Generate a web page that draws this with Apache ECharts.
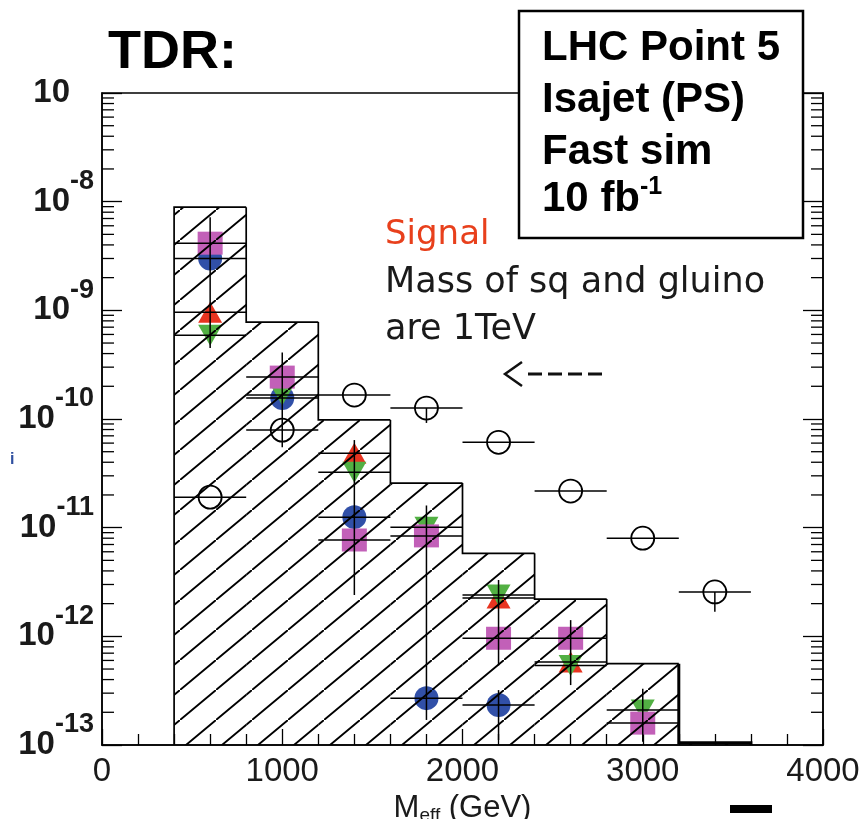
<!DOCTYPE html>
<html><head><meta charset="utf-8">
<script src="https://cdn.jsdelivr.net/npm/echarts@6/dist/echarts.min.js"></script>
<style>html,body{margin:0;padding:0;background:#fff;}#c{width:863px;height:819px;}</style>
</head><body><div id="c"></div>
<script>
// ---- data ----
const binEdges = [400, 800, 1200, 1600, 2000, 2400, 2800, 3200, 3600];
const bgHist = [8.9e-9, 7.8e-10, 9.8e-11, 2.57e-11, 5.8e-12, 2.2e-12, 5.6e-13, 1.05e-13];

const signalX = [600, 1000, 1400, 1800, 2200, 2600, 3000, 3400];
const signalY = [1.91e-11, 7.9e-11, 1.66e-10, 1.26e-10, 6.1e-11, 2.17e-11, 8.0e-12, 2.56e-12];

const magentaX = [600, 1000, 1400, 1800, 2200, 2600, 3000];
const magentaY = [4.15e-9, 2.43e-10, 7.7e-12, 8.4e-12, 9.6e-13, 9.6e-13, 1.59e-13];
const blueX = [600, 1000, 1400, 1800, 2200];
const blueY = [3.0e-9, 1.56e-10, 1.25e-11, 2.7e-13, 2.33e-13];
const redX = [600, 1400, 2200, 2600];
const redY = [9.6e-10, 4.85e-11, 2.25e-12, 5.8e-13];
const greenX = [600, 1000, 1400, 1800, 2200, 2600, 3000];
const greenY = [5.9e-10, 1.66e-10, 3.24e-11, 1.01e-11, 2.4e-12, 5.4e-13, 2.1e-13];

const vErrX  = [600, 1000, 1400, 1800, 2200, 2200, 2600, 3000, 3400, 1800];
const vErrHi = [7.2e-9, 4.1e-10, 6.4e-11, 1.6e-11, 3.3e-12, 3.2e-13, 1.41e-12, 3.3e-13, 2.56e-12, 1.26e-10];
const vErrLo = [4.5e-10, 5.5e-11, 2.4e-12, 1.7e-13, 5.4e-13, 1.11e-13, 3.56e-13, 1.07e-13, 1.68e-12, 9.2e-11];
const xHalfWidth = 200;

const xTickLabels = ['0', '1000', '2000', '3000', '4000'];
const yTickExp = [-7, -8, -9, -10, -11, -12, -13];
const yMin = 1e-13, yMax = 1e-7;

// ---- hatch pattern ----
const tile = document.createElement('canvas');
tile.width = 36; tile.height = 30;
(function(){
  const g = tile.getContext('2d');
  g.strokeStyle = '#000'; g.lineWidth = 1.9;
  g.beginPath();
  g.moveTo(0, 30); g.lineTo(36, 0);
  g.moveTo(-36, 60); g.lineTo(0, 30);
  g.moveTo(36, 0); g.lineTo(72, -30);
  g.stroke();
})();
const hatch = { image: tile, repeat: 'repeat' };

const pts = (xs, ys) => xs.map((x, i) => [x, ys[i]]);
const minorTickVals = [];
for (let e = -13; e < -7; e++) for (let k = 2; k <= 9; k++) minorTickVals.push([0, k * Math.pow(10, e)]);

const allMarkers = [].concat(pts(signalX, signalY), pts(magentaX, magentaY), pts(blueX, blueY), pts(redX, redY), pts(greenX, greenY));

const chart = echarts.init(document.getElementById('c'), null, {renderer: 'canvas'});
const fontMain = "'Liberation Sans', Arial, sans-serif";

const option = {
  backgroundColor: '#fff',
  animation: false,
  grid: { left: 102, right: 40, top: 93, bottom: 74, show: true, borderColor: '#000', borderWidth: 1.5, backgroundColor: 'transparent', containLabel: false, outerBoundsMode: 'none' },
  xAxis: {
    type: 'value', min: 0, max: 4000, interval: 1000,
    axisLine: { lineStyle: { color: '#000', width: 1.5 } },
    axisTick: { inside: true, length: 16, lineStyle: { color: '#000', width: 1.3 } },
    minorTick: { show: true, splitNumber: 5, length: 11, lineStyle: { color: '#000', width: 1.3 } },
    splitLine: { show: false },
    axisLabel: { margin: 10, fontSize: 33, color: '#1a1a1a', fontFamily: fontMain,
      formatter: v => xTickLabels[Math.round(v / 1000)] },
    name: '{m|M}{sub|eff}{t| (GeV)}', nameLocation: 'middle', nameGap: 44,
    nameTextStyle: { rich: {
      m: { fontSize: 31, fontFamily: fontMain, color: '#1a1a1a' },
      sub: { fontSize: 19, fontFamily: fontMain, color: '#1a1a1a', padding: [15, 0, 0, 0] },
      t: { fontSize: 31, fontFamily: fontMain, color: '#1a1a1a' } } }
  },
  yAxis: [{
    type: 'log', logBase: 10, min: yMin, max: yMax,
    axisLine: { lineStyle: { color: '#000', width: 1.5 } },
    axisTick: { inside: true, length: 20, lineStyle: { color: '#000', width: 1.3 } },
    splitLine: { show: false },
    axisLabel: { margin: 8,
      formatter: v => { const e = Math.round(Math.log10(v)); if (yTickExp.indexOf(e) < 0) return ''; return e === -7 ? '{b|10}{h|-7}' : '{b|10}{s|' + e + '}'; },
      rich: {
        b: { fontSize: 33, fontWeight: 'bold', fontFamily: fontMain, color: '#1a1a1a' },
        s: { fontSize: 27, fontWeight: 'bold', fontFamily: fontMain, color: '#1a1a1a', padding: [0, 0, 40, 0] },
        h: { fontSize: 27, fontWeight: 'bold', fontFamily: fontMain, color: 'transparent', padding: [0, 0, 40, 0] }
      } }
  }, {
    type: 'log', logBase: 10, min: yMin, max: yMax, position: 'right',
    axisLine: { show: true, lineStyle: { color: '#000', width: 1.5 } },
    axisTick: { inside: true, length: 20, lineStyle: { color: '#000', width: 1.3 } },
    axisLabel: { show: false }, splitLine: { show: false }
  }],
  series: [
    { type: 'scatter', name: 'signal', z: 2, symbol: 'circle', symbolSize: 23, data: pts(signalX, signalY),
      itemStyle: { color: '#fff', borderColor: '#000', borderWidth: 1.8, opacity: 1 } },
    { type: 'scatter', name: 'red', z: 2, symbol: 'triangle', symbolSize: [24, 21], data: pts(redX, redY), itemStyle: { color: '#e83420', opacity: 1 } },
    { type: 'scatter', name: 'blue', z: 2, symbol: 'circle', symbolSize: 24, data: pts(blueX, blueY), itemStyle: { color: '#3150a8', opacity: 1 } },
    { type: 'scatter', name: 'green', z: 2, symbol: 'triangle', symbolRotate: 180, symbolSize: [24, 21], data: pts(greenX, greenY), itemStyle: { color: '#52b043', opacity: 1 } },
    { type: 'scatter', name: 'magenta', z: 2, symbol: 'rect', symbolSize: [25, 23], data: pts(magentaX, magentaY), itemStyle: { color: '#c260b8', opacity: 1 } },
    { type: 'custom', name: 'hatch', z: 3, silent: true,
      data: bgHist.map((v, i) => [binEdges[i], binEdges[i + 1], v]),
      renderItem: (p, api) => {
        const a = api.coord([api.value(0), api.value(2)]);
        const b = api.coord([api.value(1), yMin]);
        return { type: 'rect', shape: { x: a[0], y: a[1], width: b[0] - a[0], height: b[1] - a[1] }, style: { fill: hatch, stroke: null } };
      } },
    { type: 'custom', name: 'outline', z: 5, silent: true,
      data: bgHist.map((v, i) => [binEdges[i], binEdges[i + 1], v, i === 0 ? yMin : bgHist[i - 1]]),
      renderItem: (p, api) => {
        const x0 = api.value(0), x1 = api.value(1), v = api.value(2), prev = api.value(3);
        const last = p.dataIndex === bgHist.length - 1;
        const points = [api.coord([x0, prev]), api.coord([x0, v]), api.coord([x1, v])];
        if (last) points.push(api.coord([x1, yMin]));
        return { type: 'polyline', shape: { points }, style: { stroke: '#000', lineWidth: last ? 3 : 1.7, fill: null } };
      } },
    { type: 'custom', name: 'xerr', z: 4, silent: true, data: allMarkers,
      renderItem: (p, api) => {
        const a = api.coord([api.value(0) - xHalfWidth, api.value(1)]);
        const b = api.coord([api.value(0) + xHalfWidth, api.value(1)]);
        return { type: 'line', shape: { x1: a[0], y1: a[1], x2: b[0], y2: b[1] }, style: { stroke: '#000', lineWidth: 1.5 } };
      } },
    { type: 'custom', name: 'yerr', z: 4, silent: true, data: vErrX.map((x, i) => [x, vErrHi[i], vErrLo[i]]),
      renderItem: (p, api) => {
        const a = api.coord([api.value(0), api.value(1)]);
        const b = api.coord([api.value(0), api.value(2)]);
        return { type: 'line', shape: { x1: a[0], y1: a[1], x2: b[0], y2: b[1] }, style: { stroke: '#000', lineWidth: 1.5 } };
      } },
    { type: 'custom', name: 'minorTicks', z: 6, silent: true, data: minorTickVals,
      renderItem: (p, api) => {
        const l = api.coord([0, api.value(1)]);
        const r = api.coord([4000, api.value(1)]);
        return { type: 'group', children: [
          { type: 'line', shape: { x1: l[0], y1: l[1], x2: l[0] + 12, y2: l[1] }, style: { stroke: '#000', lineWidth: 1.3 } },
          { type: 'line', shape: { x1: r[0] - 12, y1: r[1], x2: r[0], y2: r[1] }, style: { stroke: '#000', lineWidth: 1.3 } }
        ] };
      } }
  ],
  graphic: [
    { type: 'text', x: 108, y: 53, z: 100, style: { text: 'TDR:', fontSize: 54, fontWeight: 'bold', fontFamily: fontMain, fill: '#000', verticalAlign: 'middle' } },
    { type: 'rect', z: 100, shape: { x: 519, y: 11, width: 284, height: 227 }, style: { fill: '#fff', stroke: '#000', lineWidth: 2.5 } },
    { type: 'text', x: 542, y: 48, z: 101, style: { text: 'LHC Point 5', fontSize: 42, fontWeight: 'bold', fontFamily: fontMain, fill: '#000', verticalAlign: 'middle' } },
    { type: 'text', x: 542, y: 100, z: 101, style: { text: 'Isajet (PS)', fontSize: 42, fontWeight: 'bold', fontFamily: fontMain, fill: '#000', verticalAlign: 'middle' } },
    { type: 'text', x: 542, y: 152, z: 101, style: { text: 'Fast sim', fontSize: 42, fontWeight: 'bold', fontFamily: fontMain, fill: '#000', verticalAlign: 'middle' } },
    { type: 'text', x: 542, y: 199, z: 101, style: { text: '{a|10 fb}{s|-1}', fill: '#000', verticalAlign: 'middle',
        rich: { a: { fontSize: 42, fontWeight: 'bold', fontFamily: fontMain, fill: '#000' },
                s: { fontSize: 25, fontWeight: 'bold', fontFamily: fontMain, fill: '#000', padding: [0, 0, 24, 0] } } } },
    { type: 'text', x: 385, y: 235, z: 100, style: { text: 'Signal', fontSize: 34, fontFamily: "'DejaVu Sans', sans-serif", fill: '#e8401c', verticalAlign: 'middle' } },
    { type: 'text', x: 385, y: 283, z: 100, style: { text: 'Mass of sq and gluino', fontSize: 35, fontFamily: "'DejaVu Sans', sans-serif", fill: '#1a1a1a', verticalAlign: 'middle' } },
    { type: 'text', x: 385, y: 330, z: 100, style: { text: 'are 1TeV', fontSize: 35, fontFamily: "'DejaVu Sans', sans-serif", fill: '#1a1a1a', verticalAlign: 'middle' } },
    { type: 'polyline', z: 100, shape: { points: [[522, 362], [505, 374], [522, 386]] }, style: { stroke: '#111', lineWidth: 2.5, fill: null } },
    { type: 'line', z: 100, shape: { x1: 528, y1: 374, x2: 608, y2: 374 }, style: { stroke: '#111', lineWidth: 3, lineDash: [14, 6] } },
    { type: 'text', x: 10, y: 460, z: 100, style: { text: 'i', fontSize: 16, fontWeight: 'bold', fontFamily: fontMain, fill: '#3050a0', verticalAlign: 'middle' } },
    { type: 'rect', z: 100, shape: { x: 730, y: 805, width: 42, height: 8 }, style: { fill: '#000' } }
  ]
};
chart.setOption(option);
</script></body></html>
